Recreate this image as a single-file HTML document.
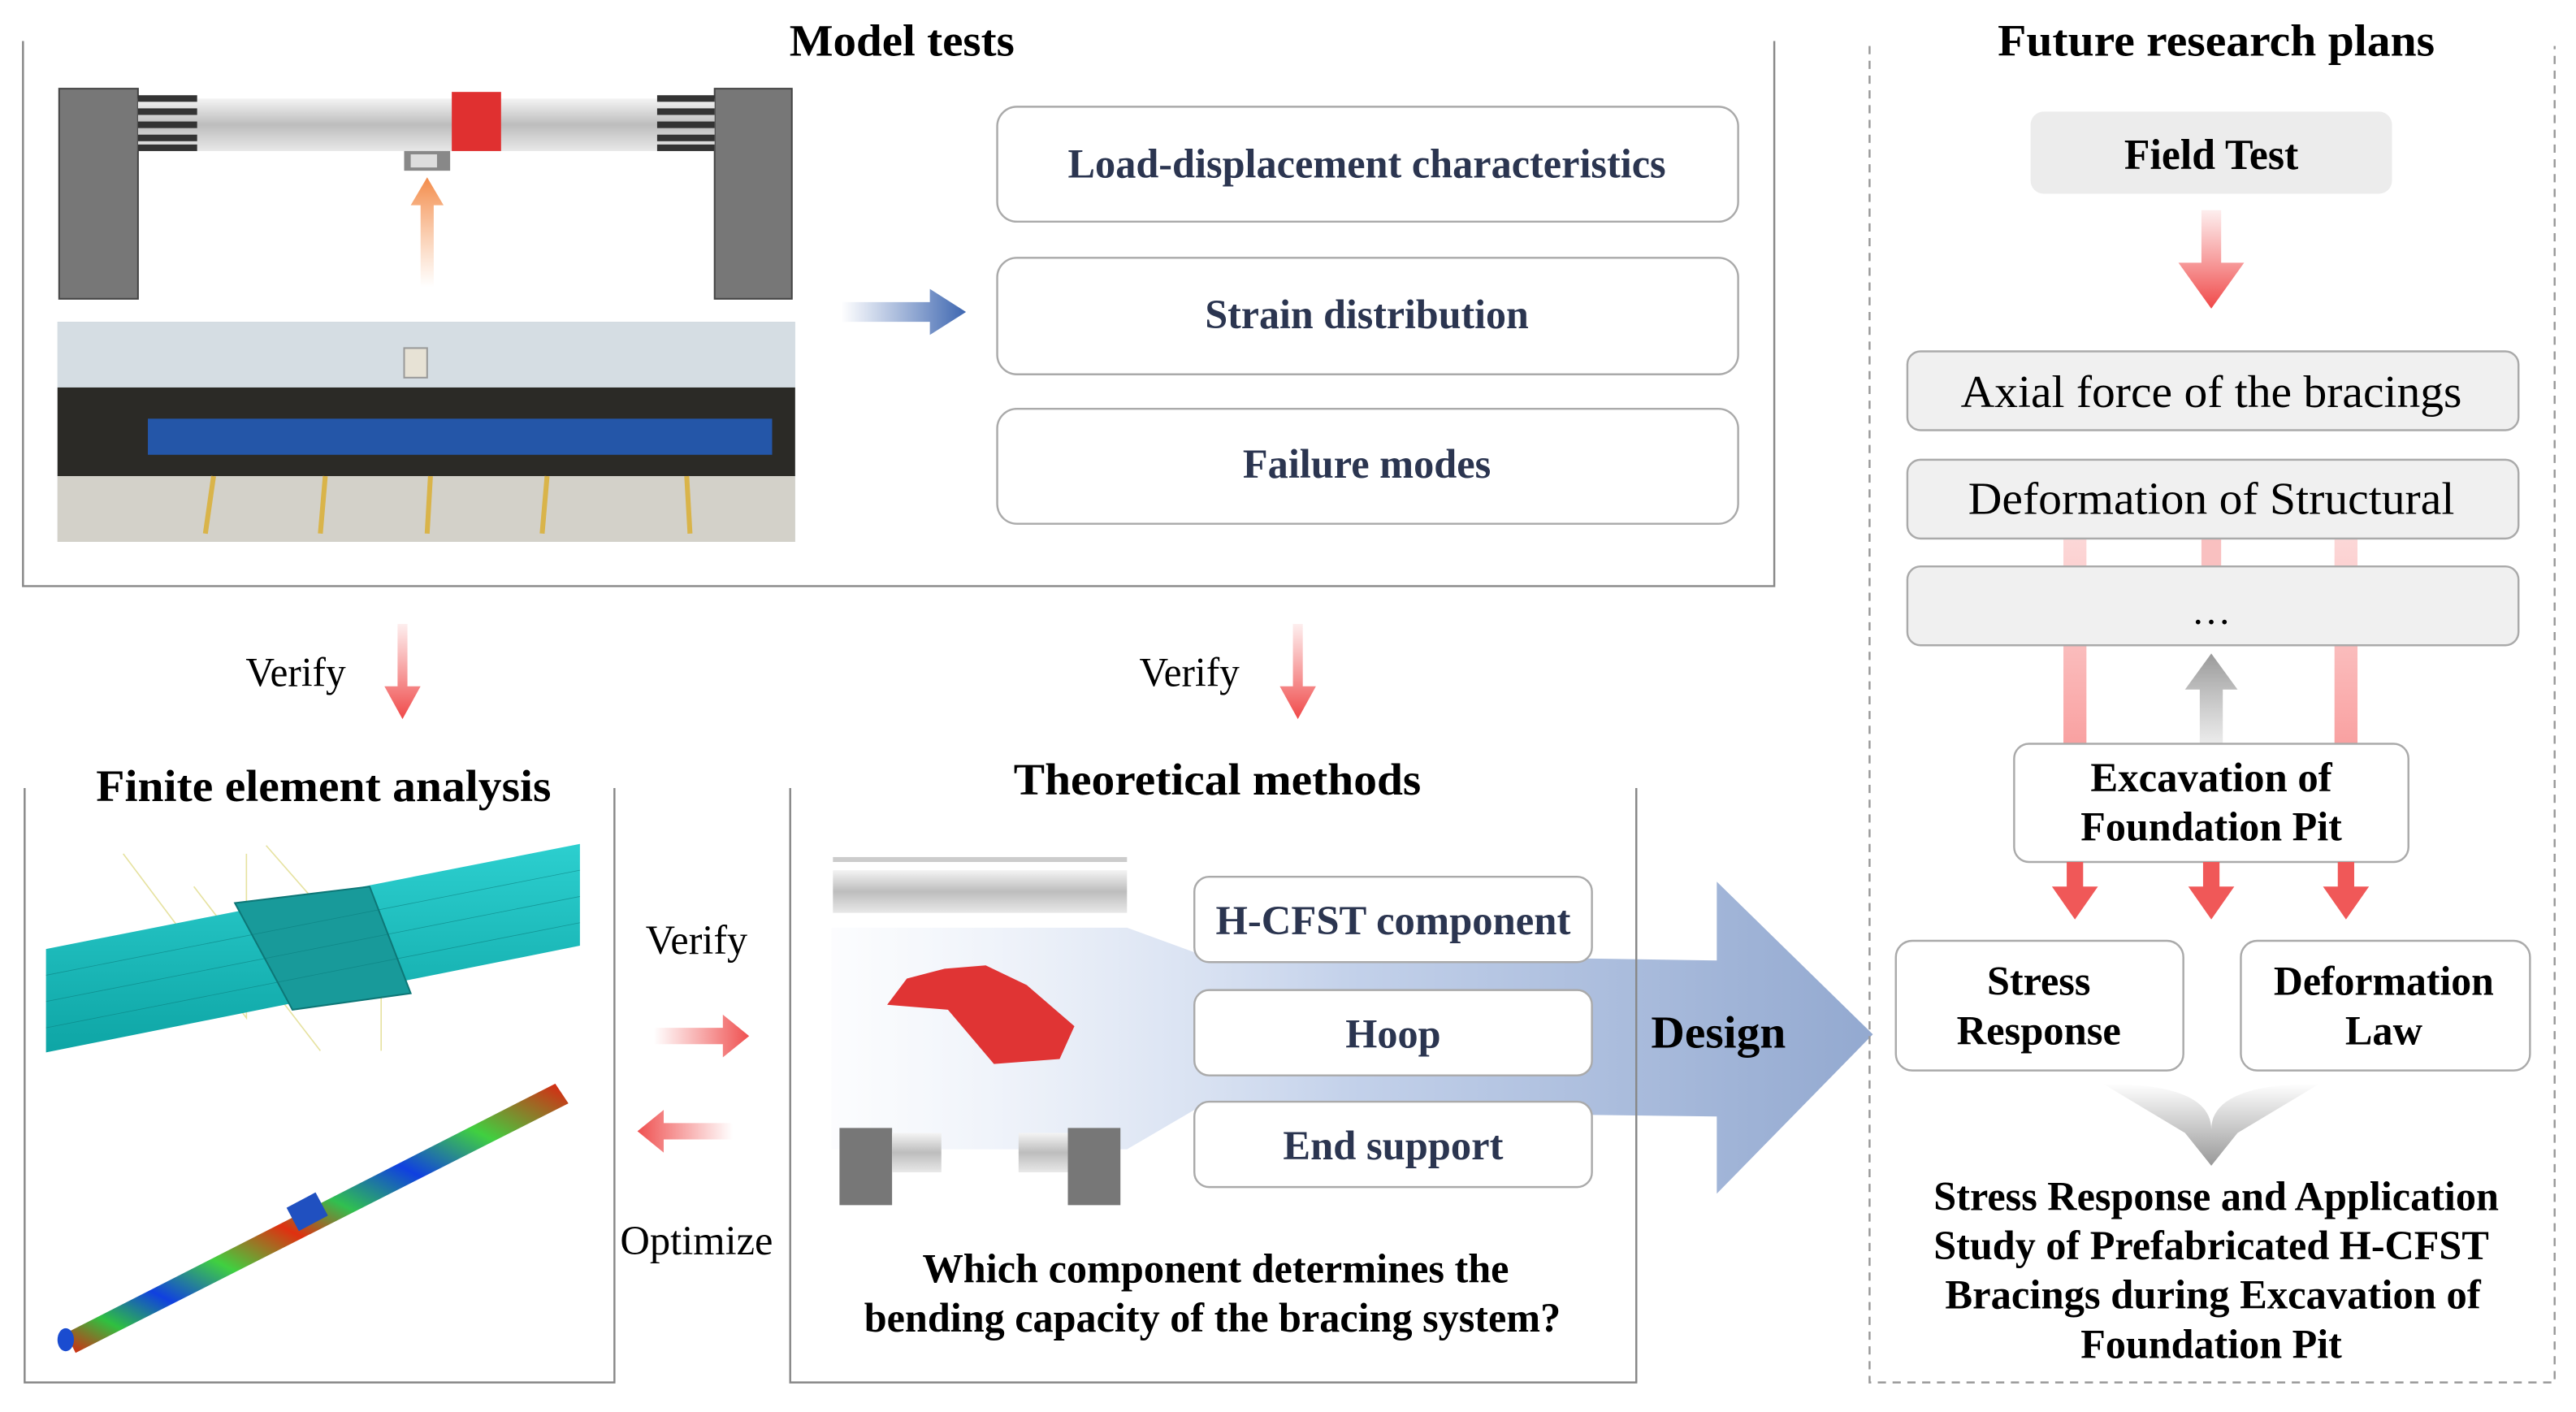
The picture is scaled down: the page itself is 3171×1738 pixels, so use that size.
<!DOCTYPE html>
<html><head><meta charset="utf-8"><style>html,body{margin:0;padding:0;background:#fff}svg{display:block}</style></head>
<body>
<svg xmlns="http://www.w3.org/2000/svg" width="3171" height="1738" viewBox="0 0 1568 860" preserveAspectRatio="none" font-family="Liberation Serif, serif">
<defs>
<linearGradient id="pipe" x1="0" y1="0" x2="0" y2="1"><stop offset="0" stop-color="#f4f4f4"/><stop offset="0.5" stop-color="#bdbdbd"/><stop offset="1" stop-color="#e8e8e8"/></linearGradient>
<linearGradient id="orng" x1="0" y1="1" x2="0" y2="0"><stop offset="0" stop-color="#f7a56b" stop-opacity="0"/><stop offset="1" stop-color="#f38b4a"/></linearGradient>
<linearGradient id="blu" x1="0" y1="0" x2="1" y2="0"><stop offset="0" stop-color="#4a6fb5" stop-opacity="0"/><stop offset="1" stop-color="#3d66b0"/></linearGradient>
<linearGradient id="redv" x1="0" y1="0" x2="0" y2="1"><stop offset="0" stop-color="#f05a5a" stop-opacity="0.1"/><stop offset="1" stop-color="#f04848"/></linearGradient>
<linearGradient id="redr" x1="0" y1="0" x2="1" y2="0"><stop offset="0" stop-color="#f05a5a" stop-opacity="0"/><stop offset="1" stop-color="#ef5050"/></linearGradient>
<linearGradient id="redl" x1="1" y1="0" x2="0" y2="0"><stop offset="0" stop-color="#f05a5a" stop-opacity="0"/><stop offset="1" stop-color="#ef5050"/></linearGradient>
<linearGradient id="pinkv" x1="0" y1="0" x2="0" y2="1"><stop offset="0" stop-color="#f9b0b0" stop-opacity="0.5"/><stop offset="1" stop-color="#f9a0a0"/></linearGradient>
<linearGradient id="grayup" x1="0" y1="1" x2="0" y2="0"><stop offset="0" stop-color="#aaa" stop-opacity="0.2"/><stop offset="1" stop-color="#999"/></linearGradient>
<linearGradient id="grayd" x1="0" y1="0" x2="0" y2="1"><stop offset="0" stop-color="#fff"/><stop offset="1" stop-color="#999"/></linearGradient>
<linearGradient id="design" x1="0" y1="0" x2="1" y2="0"><stop offset="0" stop-color="#dfe7f5" stop-opacity="0.1"/><stop offset="0.5" stop-color="#c3d1ea"/><stop offset="1" stop-color="#93a9d0"/></linearGradient>
<linearGradient id="teal" x1="0" y1="0" x2="0" y2="1"><stop offset="0" stop-color="#2ccfcf"/><stop offset="1" stop-color="#0ea5a5"/></linearGradient>
<linearGradient id="rainbow" x1="0" y1="1" x2="1" y2="0"><stop offset="0" stop-color="#e02010"/><stop offset="0.1" stop-color="#2fc040"/><stop offset="0.2" stop-color="#1040e0"/><stop offset="0.32" stop-color="#40d040"/><stop offset="0.45" stop-color="#e03010"/><stop offset="0.55" stop-color="#30c050"/><stop offset="0.68" stop-color="#1040e0"/><stop offset="0.82" stop-color="#40d040"/><stop offset="1" stop-color="#e02010"/></linearGradient>
</defs>

<polyline points="14,25 14,357 1080,357 1080,25" fill="none" stroke="#888" stroke-width="1.2"/>
<text x="549" y="34" font-size="27" font-weight="bold" text-anchor="middle" textLength="137" lengthAdjust="spacingAndGlyphs">Model tests</text>
<rect x="36" y="54" width="48" height="128" fill="#777" stroke="#444"/>
<rect x="435" y="54" width="47" height="128" fill="#777" stroke="#444"/>
<rect x="84" y="60" width="351" height="32" fill="url(#pipe)"/>
<g fill="#333"><rect x="84" y="58" width="36" height="4"/><rect x="84" y="66" width="36" height="4"/><rect x="84" y="74" width="36" height="4"/><rect x="84" y="82" width="36" height="4"/><rect x="84" y="88" width="36" height="4"/>
<rect x="400" y="58" width="35" height="4"/><rect x="400" y="66" width="35" height="4"/><rect x="400" y="74" width="35" height="4"/><rect x="400" y="82" width="35" height="4"/><rect x="400" y="88" width="35" height="4"/></g>
<rect x="275" y="56" width="30" height="36" fill="#e03030"/>
<path d="M246,92 h28 v12 h-28z" fill="#888"/>
<rect x="250" y="94" width="16" height="8" fill="#ddd"/>
<path d="M256,175 L256,125 L250,125 L260,108 L270,125 L264,125 L264,175Z" fill="url(#orng)"/>
<rect x="35" y="196" width="449" height="134" fill="#c7d0d8"/>
<rect x="35" y="196" width="449" height="40" fill="#d5dde3"/>
<rect x="35" y="236" width="449" height="54" fill="#2b2a26"/>
<rect x="90" y="255" width="380" height="22" fill="#2456a8"/>
<rect x="35" y="290" width="449" height="40" fill="#d3d1c9"/>
<g stroke="#d9b44a" stroke-width="3"><line x1="125" y1="325" x2="130" y2="290"/><line x1="195" y1="325" x2="198" y2="290"/><line x1="260" y1="325" x2="262" y2="290"/><line x1="330" y1="325" x2="333" y2="290"/><line x1="420" y1="325" x2="418" y2="290"/></g>
<rect x="246" y="212" width="14" height="18" fill="#e7e2d5" stroke="#999"/>
<path d="M512,184 L566,184 L566,176 L588,190 L566,204 L566,196 L512,196Z" fill="url(#blu)"/>
<g fill="#fff" stroke="#aaa" stroke-width="1.2">
<rect x="607" y="65" width="451" height="70" rx="12"/>
<rect x="607" y="157" width="451" height="71" rx="12"/>
<rect x="607" y="249" width="451" height="70" rx="12"/>
</g>
<g font-size="25" font-weight="bold" fill="#2b3550" text-anchor="middle" lengthAdjust="spacingAndGlyphs">
<text x="832" y="108" textLength="364" lengthAdjust="spacingAndGlyphs">Load-displacement characteristics</text>
<text x="832" y="200" textLength="197" lengthAdjust="spacingAndGlyphs">Strain distribution</text>
<text x="832" y="291" textLength="151" lengthAdjust="spacingAndGlyphs">Failure modes</text>
</g>

<path d="M242,380 L242,418 L234,418 L245,438 L256,418 L248,418 L248,380Z" fill="url(#redv)"/>
<path d="M787,380 L787,418 L779,418 L790,438 L801,418 L793,418 L793,380Z" fill="url(#redv)"/>
<g font-size="25" text-anchor="middle"><text x="180" y="418" textLength="61" lengthAdjust="spacingAndGlyphs">Verify</text><text x="724" y="418" textLength="61" lengthAdjust="spacingAndGlyphs">Verify</text></g>

<polyline points="15,480 15,842 374,842 374,480" fill="none" stroke="#888" stroke-width="1.2"/>
<text x="197" y="488" font-size="27" font-weight="bold" text-anchor="middle" textLength="277" lengthAdjust="spacingAndGlyphs">Finite element analysis</text>
<g stroke="#e6e2a0" stroke-width="0.8" fill="none"><path d="M75,520 L150,620 L150,520"/><path d="M118,540 L195,640"/><path d="M162,515 L232,595 L232,640"/></g>
<path d="M28,578 L353,514 L353,576 L28,641Z" fill="url(#teal)"/>
<path d="M143,550 L225,540 L250,605 L178,615Z" fill="#189a9a" stroke="#0d7777"/>
<g stroke="#0a7d7d" stroke-width="0.4" opacity="0.6">
<line x1="28" y1="594" x2="353" y2="530"/><line x1="28" y1="610" x2="353" y2="546"/><line x1="28" y1="626" x2="353" y2="562"/>
</g>
<path d="M40,812 L338,660 L346,672 L46,824Z" fill="url(#rainbow)"/>
<ellipse cx="40" cy="816" rx="5" ry="7" fill="#1a4cd0"/>
<rect x="177" y="730" width="20" height="16" fill="#2050c0" transform="rotate(-28 187 738)"/>

<text x="424" y="581" font-size="25" text-anchor="middle" textLength="62" lengthAdjust="spacingAndGlyphs">Verify</text>
<text x="424" y="764" font-size="25" text-anchor="middle" textLength="93" lengthAdjust="spacingAndGlyphs">Optimize</text>
<path d="M398,626 L440,626 L440,618 L456,631 L440,644 L440,636 L398,636Z" fill="url(#redr)"/>
<path d="M446,684 L404,684 L404,676 L388,689 L404,702 L404,694 L446,694Z" fill="url(#redl)"/>

<polyline points="481,480 481,842 996,842 996,480" fill="none" stroke="#888" stroke-width="1.2"/>
<text x="741" y="484" font-size="27" font-weight="bold" text-anchor="middle" textLength="248" lengthAdjust="spacingAndGlyphs">Theoretical methods</text>
<path d="M506,565 L686,565 L727,580 L1045,585 L1045,537 L1140,630 L1045,727 L1045,680 L727,676 L686,700 L506,700Z" fill="url(#design)"/>
<rect x="507" y="522" width="179" height="3" fill="#ccc"/>
<rect x="507" y="530" width="179" height="26" fill="url(#pipe)"/>
<path d="M540,612 L552,596 L575,590 L600,588 L625,600 L654,625 L645,645 L605,648 L577,615 Z" fill="#e03434"/>
<rect x="511" y="687" width="32" height="47" fill="#777"/>
<rect x="543" y="690" width="30" height="24" fill="url(#pipe)"/>
<rect x="650" y="687" width="32" height="47" fill="#777"/>
<rect x="620" y="690" width="30" height="24" fill="url(#pipe)"/>
<g fill="#fff" stroke="#aaa" stroke-width="1.2">
<rect x="727" y="534" width="242" height="52" rx="9"/>
<rect x="727" y="603" width="242" height="52" rx="9"/>
<rect x="727" y="671" width="242" height="52" rx="9"/>
</g>
<line x1="996" y1="480" x2="996" y2="842" stroke="#888" stroke-width="1.2"/>
<g font-size="25" font-weight="bold" fill="#2b3550" text-anchor="middle">
<text x="848" y="569" textLength="216" lengthAdjust="spacingAndGlyphs">H-CFST component</text>
<text x="848" y="638" textLength="58" lengthAdjust="spacingAndGlyphs">Hoop</text>
<text x="848" y="706" textLength="134" lengthAdjust="spacingAndGlyphs">End support</text>
</g>
<text x="1046" y="638" font-size="28" font-weight="bold" text-anchor="middle" textLength="82" lengthAdjust="spacingAndGlyphs">Design</text>
<g font-size="25" font-weight="bold" text-anchor="middle">
<text x="740" y="781" textLength="357" lengthAdjust="spacingAndGlyphs">Which component determines the</text>
<text x="738" y="811" textLength="424" lengthAdjust="spacingAndGlyphs">bending capacity of the bracing system?</text>
</g>

<polyline points="1138,28 1138,842 1555,842 1555,28" fill="none" stroke="#999" stroke-width="1.2" stroke-dasharray="5,4"/>
<text x="1349" y="34" font-size="27" font-weight="bold" text-anchor="middle" textLength="266" lengthAdjust="spacingAndGlyphs">Future research plans</text>
<rect x="1236" y="68" width="220" height="50" rx="8" fill="#ececec"/>
<text x="1346" y="103" font-size="26" font-weight="bold" text-anchor="middle" textLength="106" lengthAdjust="spacingAndGlyphs">Field Test</text>
<path d="M1340,128 L1340,160 L1326,160 L1346,188 L1366,160 L1352,160 L1352,128Z" fill="url(#redv)"/>
<rect x="1256" y="328" width="14" height="126" fill="url(#pinkv)"/>
<rect x="1421" y="328" width="14" height="126" fill="url(#pinkv)"/>
<rect x="1340" y="328" width="12" height="22" fill="#f9c0c0"/>
<g fill="#f0f0f0" stroke="#aaa" stroke-width="1.2">
<rect x="1161" y="214" width="372" height="48" rx="8"/>
<rect x="1161" y="280" width="372" height="48" rx="8"/>
<rect x="1161" y="345" width="372" height="48" rx="8"/>
</g>
<g font-size="28" text-anchor="middle"><text x="1346" y="248" textLength="305" lengthAdjust="spacingAndGlyphs">Axial force of the bracings</text><text x="1346" y="313" textLength="296" lengthAdjust="spacingAndGlyphs">Deformation of Structural</text><text x="1346" y="380" font-size="24">…</text></g>
<path d="M1339,455 L1339,420 L1330,420 L1346,398 L1362,420 L1353,420 L1353,455Z" fill="url(#grayup)"/>
<rect x="1226" y="453" width="240" height="72" rx="9" fill="#fff" stroke="#aaa" stroke-width="1.2"/>
<g font-size="25" font-weight="bold" text-anchor="middle"><text x="1346" y="482" textLength="147" lengthAdjust="spacingAndGlyphs">Excavation of</text><text x="1346" y="512" textLength="159" lengthAdjust="spacingAndGlyphs">Foundation Pit</text></g>
<g fill="#f05858">
<path d="M1258,525 L1258,540 L1249,540 L1263,560 L1277,540 L1268,540 L1268,525Z"/>
<path d="M1341,525 L1341,540 L1332,540 L1346,560 L1360,540 L1351,540 L1351,525Z"/>
<path d="M1423,525 L1423,540 L1414,540 L1428,560 L1442,540 L1433,540 L1433,525Z"/>
</g>
<g fill="#fff" stroke="#aaa" stroke-width="1.2">
<rect x="1154" y="573" width="175" height="79" rx="10"/>
<rect x="1364" y="573" width="176" height="79" rx="10"/>
</g>
<g font-size="25" font-weight="bold" text-anchor="middle">
<text x="1241" y="606" textLength="63" lengthAdjust="spacingAndGlyphs">Stress</text><text x="1241" y="636" textLength="100" lengthAdjust="spacingAndGlyphs">Response</text>
<text x="1451" y="606" textLength="134" lengthAdjust="spacingAndGlyphs">Deformation</text><text x="1451" y="636" textLength="47" lengthAdjust="spacingAndGlyphs">Law</text>
</g>
<path d="M1280,660 Q1346,660 1346,688 Q1346,660 1412,660 L1362,690 L1346,710 L1330,690Z" fill="url(#grayd)"/>
<g font-size="25" font-weight="bold" text-anchor="middle">
<text x="1349" y="737" textLength="344" lengthAdjust="spacingAndGlyphs">Stress Response and Application</text>
<text x="1346" y="767" textLength="338" lengthAdjust="spacingAndGlyphs">Study of Prefabricated H-CFST</text>
<text x="1347" y="797" textLength="326" lengthAdjust="spacingAndGlyphs">Bracings during Excavation of</text>
<text x="1346" y="827" textLength="159" lengthAdjust="spacingAndGlyphs">Foundation Pit</text>
</g>
</svg>
</body></html>
